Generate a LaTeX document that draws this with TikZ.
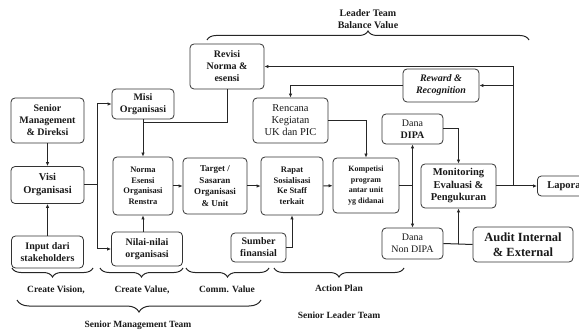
\documentclass[tikz,border=0pt]{standalone}
\usepackage{fontspec}
\setmainfont{Liberation Serif}
\usetikzlibrary{arrows.meta,decorations.pathreplacing}

\tikzset{
  box/.style={draw=black!80, line width=0.8pt, rounded corners=4pt, align=center,
    inner sep=1pt, text=black!90, font=\bfseries\fontsize{10}{12}\selectfont},
  small/.style={font=\bfseries\fontsize{8.5}{10.5}\selectfont},
  tiny/.style={font=\bfseries\fontsize{8}{10.5}\selectfont},
  plain/.style={font=\fontsize{10.5}{12}\selectfont},
  link/.style={draw=black!85, line width=1pt},
  arr/.style={link, -{Latex[length=4pt,width=3.5pt]}},
  brc/.style={draw=black!85, line width=1pt, decorate},
  lbl/.style={text=black!90, font=\bfseries\fontsize{9.5}{11}\selectfont}
}

\begin{document}
\begin{tikzpicture}[x=1pt,y=-1pt]
\useasboundingbox (0,0) rectangle (579,334);
\clip (0,0) rectangle (579,334);

% vision column
\node[box, minimum width=73, minimum height=45] (smd) at (47.5,120.5) {Senior\\Management\\\& Direksi};
\node[box, font=\bfseries\fontsize{10.5}{13}\selectfont, minimum width=73, minimum height=37] (visi) at (47.5,185) {Visi\\Organisasi};
\node[box, minimum width=72, minimum height=32] (input) at (47.5,252) {Input dari\\stakeholders};

% value column
\node[box, minimum width=62, minimum height=30] (misi) at (143,104) {Misi\\Organisasi};
\node[box, small, minimum width=60, minimum height=58] (norma) at (143,186) {Norma\\Esensi\\Organisasi\\Renstra};
\node[box, minimum width=71, minimum height=34] (nilai) at (147,249) {Nilai-nilai\\organisasi};

% communication and planning
\node[box, minimum width=74, minimum height=45] (revisi) at (227,66.5) {Revisi\\Norma \&\\esensi};
\node[box, font=\bfseries\fontsize{9}{11.5}\selectfont, minimum width=64, minimum height=56] (target) at (215,186) {Target /\\Sasaran\\Organisasi\\\& Unit};
\node[box, plain, minimum width=75, minimum height=45] (rencana) at (290.5,120.5) {Rencana\\Kegiatan\\UK dan PIC};
\node[box, small, minimum width=62, minimum height=58] (rapat) at (292,186) {Rapat\\Sosialisasi\\Ke Staff\\terkait};
\node[box, minimum width=55, minimum height=29] (sumber) at (258.5,247.5) {Sumber\\finansial};
\node[box, tiny, minimum width=66, minimum height=55] (komp) at (366,185.5) {Kompetisi\\program\\antar unit\\yg didanai};

% funding, monitoring and reporting
\node[box, font=\itshape\bfseries\fontsize{10}{12}\selectfont, minimum width=76, minimum height=33] (reward) at (441,85.5) {Reward \&\\Recognition};
\node[box, plain, font=\fontsize{10}{12}\selectfont, minimum width=61, minimum height=30] (dipa) at (412.5,129) {Dana\\\textbf{DIPA}};
\node[box, plain, font=\fontsize{10}{12}\selectfont, minimum width=61, minimum height=31] (nondipa) at (412.5,243.5) {Dana\\Non DIPA};
\node[box, font=\bfseries\fontsize{10.5}{12.5}\selectfont, minimum width=75, minimum height=44] (mon) at (458.5,186) {Monitoring\\Evaluasi \&\\Pengukuran};
\node[box, anchor=west, inner xsep=10pt, minimum height=20, font=\bfseries\fontsize{10.5}{12}\selectfont] (lap) at (537,186) {Laporan};
\node[box, font=\bfseries\fontsize{12.5}{15}\selectfont, minimum width=100, minimum height=35] (audit) at (523,244.5) {Audit Internal\\\& External};

% vision and value links
\draw[arr] (smd) -- (visi);
\draw[arr] (input) -- (visi);
\coordinate (vj) at (97,185);
\draw[link] (visi.east) -- (vj);
\draw[arr] (vj) |- (misi.west);
\draw[arr] (vj) |- (nilai.west);
\draw[arr] (misi) -- (norma);
\coordinate (mj) at (143,123);
\draw[link] (revisi.south) |- (mj);
\draw[arr] (norma.south |- nilai.north) -- (norma.south);

% main chain
\draw[arr] (norma) -- (target);
\draw[arr] (target) -- (rapat);
\draw[arr] (rapat) -- (komp);
\draw[arr] (sumber.east) -| (rapat.south);
\draw[arr] (rencana.east) -| (komp.north);

% funding
\coordinate (kj) at (412.5,185.5);
\draw[link] (komp.east) -- (kj);
\draw[arr] (kj) -- (dipa.south);
\draw[arr] (kj) -- (nondipa.north);
\draw[arr] (dipa.east) -| (mon.north);
\draw[link] (nondipa.east) -- (audit.west);
\draw[arr] (mon.south |- audit.west) -- (mon.south);

% reporting and feedback
\draw[arr] (mon.east) -- (lap.west);
\coordinate (fj) at (513,186);
\coordinate (ft) at (513,66.5);
\draw[link] (fj) -- (ft);
\draw[arr] (ft) -- (revisi.east);
\draw[arr] (513,85.5) -- (reward.east);
\draw[arr] (reward.west) -| (rencana.north);

% braces and team labels
\draw[brc, decoration={brace, amplitude=9pt}] (207,40) -- (529,40);
\node[lbl, font=\bfseries\fontsize{10}{12}\selectfont] (lt) at (368,13) {Leader Team};
\node[lbl, font=\bfseries\fontsize{10}{12}\selectfont] (bv) at (368,25) {Balance Value};

\draw[brc, decoration={brace, mirror, amplitude=9pt}] (12,268) -- (93,268);
\draw[brc, decoration={brace, mirror, amplitude=9pt}] (100,268) -- (183,268);
\draw[brc, decoration={brace, mirror, amplitude=9pt}] (186,268) -- (269,268);
\draw[brc, decoration={brace, mirror, amplitude=9pt}] (274,268) -- (404,268);
\node[lbl] (cvis) at (56,290) {Create Vision,};
\node[lbl] (cval) at (142,290) {Create Value,};
\node[lbl] (comm) at (227,289) {Comm. Value};
\node[lbl] (act) at (339,288) {Action Plan};

\draw[brc, decoration={brace, mirror, amplitude=12pt}] (17,300) -- (261,300);
\node[lbl] (smt) at (138,325) {Senior Management Team};
\node[lbl] (slt) at (339,315) {Senior Leader Team};
\end{tikzpicture}
\end{document}
